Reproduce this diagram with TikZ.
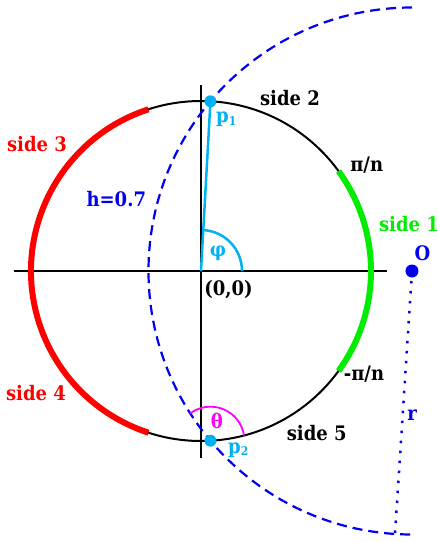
\documentclass[tikz,border=0pt]{standalone}
\usepackage{fontspec}
\usetikzlibrary{calc}
\setmainfont{DejaVu Serif}[FakeStretch=0.9]
\definecolor{pcyan}{RGB}{0,176,240}
\definecolor{pblue}{RGB}{0,0,238}
\definecolor{pgreen}{RGB}{0,236,0}
\definecolor{pred}{RGB}{255,0,0}
\definecolor{pmag}{RGB}{255,0,255}
\newcommand{\subtxt}[1]{\raisebox{-2.5pt}{\fontsize{12}{12}\selectfont #1}}
\tikzset{
  lbl/.style={font=\bfseries\fontsize{20}{20}\selectfont, inner sep=0pt, anchor=base},
  axisline/.style={line width=1.5pt, black},
  sidearc/.style={line width=6pt},
}
\begin{document}
\begin{tikzpicture}[x=1pt,y=1pt]
\useasboundingbox (-201,-271) rectangle (237,271);
% named points
\coordinate (C) at (0,0);
\coordinate (O) at (211,0);
\coordinate (p1) at (9.45,169.7);
\coordinate (p2) at (9.45,-169.7);
\coordinate (rend) at (194,-263);
\coordinate (axL) at (-187,0);
\coordinate (axR) at (186,0);
\coordinate (axT) at (0,186);
\coordinate (axB) at (0,-187);
% axes
\draw[axisline] (axL) -- (axR);
\draw[axisline] (axT) -- (axB);
% unit circle
\draw[line width=2pt] (C) circle (170);
% coloured sides
\draw[sidearc, pred] (108:170) arc[start angle=108, end angle=252, radius=170];
\draw[sidearc, pgreen] (-36:170) arc[start angle=-36, end angle=36, radius=170];
% dashed circle
\draw[pblue, line width=2.2pt, dash pattern=on 10pt off 6pt] ($(O)+(0,263.5)$) arc[start angle=90, end angle=270, radius=263.5];
% dotted radius
\draw[pblue, line width=2.5pt, dash pattern=on 2.5pt off 7.5pt] (O) -- (rend);
% p1 line and phi arc
\draw[pcyan, line width=2.5pt] (C) -- (p1);
\draw[pcyan, line width=2.5pt] (41,0) arc[start angle=0, end angle=86.8, radius=41];
% theta arc
\draw[pmag, line width=1.8pt] ($(p2)+(8.9:34)$) arc[start angle=8.9, end angle=126.4, radius=34];
% dots
\fill[pcyan] (p1) circle (6);
\fill[pcyan] (p2) circle (6);
\fill[pblue] (O) circle (6.5);
% labels
\node[lbl] (ls2) at (89,165.3) {side 2};
\node[lbl] (lpin) at (165.7,99.3) {π/n};
\node[lbl, pgreen] (ls1) at (208,39.3) {side 1};
\node[lbl, pblue] (lO) at (221.5,11) {O};
\node[lbl] (l00) at (27.5,-24) {(0,0)};
\node[lbl, pcyan] (lphi) at (17,15) {φ};
\node[lbl, pcyan, anchor=base west] (lp1) at (15,148.3) {p\subtxt{1}};
\node[lbl, pblue] (lh) at (-84.7,64.3) {h=0.7};
\node[lbl, pred] (ls3) at (-164,119.3) {side 3};
\node[lbl, pred] (ls4) at (-165,-129.7) {side 4};
\node[lbl] (lmpin) at (163,-109.7) {-π/n};
\node[lbl] (ls5) at (115.7,-169) {side 5};
\node[lbl, pmag] (lth) at (16,-157.3) {θ};
\node[lbl, pcyan, anchor=base west] (lp2) at (27,-182) {p\subtxt{2}};
\node[lbl, pblue] (lr) at (211,-149) {r};
\end{tikzpicture}
\end{document}
